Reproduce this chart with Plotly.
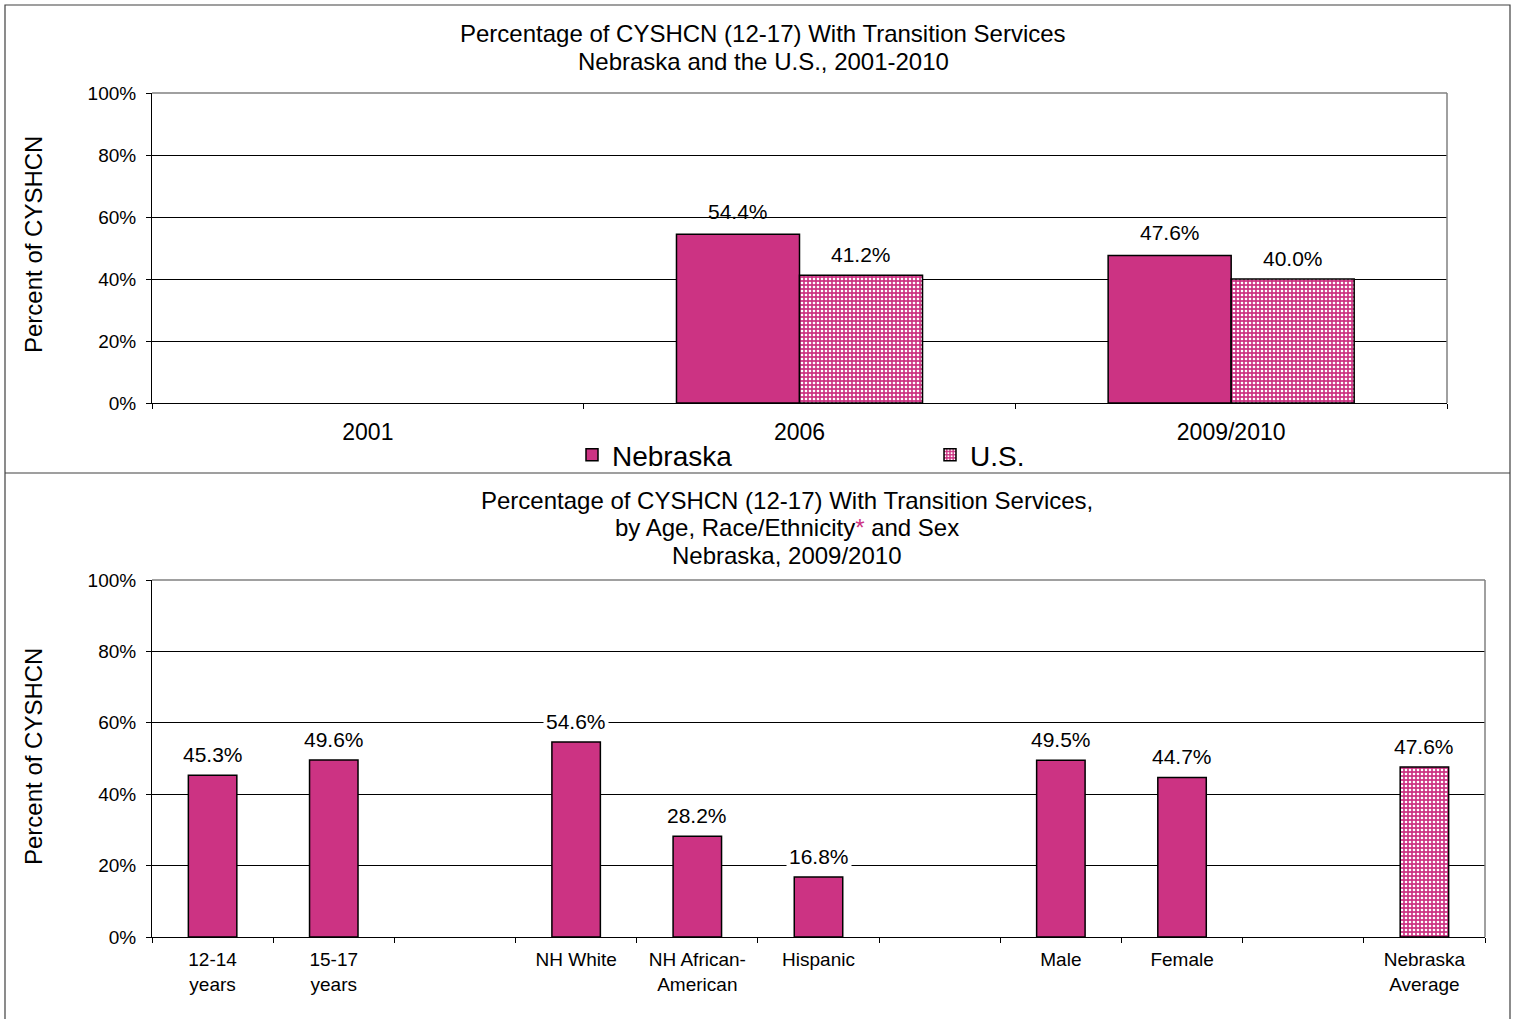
import plotly.graph_objects as go

# ---------------- data ----------------
years = ["2001", "2006", "2009/2010"]
nebraska = [None, 54.4, 47.6]
us = [None, 41.2, 40.0]

groups = ["12-14<br>years", "15-17<br>years", " ", "NH White", "NH African-<br>American",
          "Hispanic", "  ", "Male", "Female", "   ", "Nebraska<br>Average"]
group_vals = [45.3, 49.6, None, 54.6, 28.2, 16.8, None, 49.5, 44.7, None, None]
avg_vals = [None] * 10 + [47.6]

y_ticks = [0, 20, 40, 60, 80, 100]
y_ticklabels = ["0%", "20%", "40%", "60%", "80%", "100%"]

title1_lines = ["Percentage of CYSHCN (12-17) With Transition Services",
                "Nebraska and the U.S., 2001-2010"]
title2_lines = ["Percentage of CYSHCN (12-17) With Transition Services,",
                "by Age, Race/Ethnicity<span style='color:#CC3383'>*</span> and Sex",
                "Nebraska, 2009/2010"]
y_title = "Percent of CYSHCN"

MAG = "#CC3383"
FONT = "Arial, 'Liberation Sans', sans-serif"
W, H = 1517, 1019

pattern = dict(shape=".", fgcolor="white", bgcolor=MAG, size=4, solidity=0.35)

fig = go.Figure()

fig.add_trace(go.Bar(x=years, y=nebraska, name="Nebraska", marker=dict(color=MAG, line=dict(color="black", width=1.5)),
                     xaxis="x", yaxis="y"))
fig.add_trace(go.Bar(x=years, y=us, name="U.S.", marker=dict(color=MAG, pattern=pattern,
                     line=dict(color="black", width=1.5)), xaxis="x", yaxis="y"))

BW2 = 0.4
fig.add_trace(go.Bar(x=groups, y=group_vals, showlegend=False, width=BW2, offset=-BW2 / 2,
                     marker=dict(color=MAG, line=dict(color="black", width=1.5)),
                     xaxis="x2", yaxis="y2"))
fig.add_trace(go.Bar(x=groups, y=avg_vals, showlegend=False, width=BW2, offset=-BW2 / 2,
                     marker=dict(color=MAG, pattern=pattern, line=dict(color="black", width=1.5)),
                     xaxis="x2", yaxis="y2"))


def px_x(p):
    return p / W


def px_y(p):
    return 1 - p / H


ax_common = dict(showline=True, linecolor="black", linewidth=1, ticks="outside", ticklen=5,
                 tickcolor="black", fixedrange=True, automargin=False)

fig.update_layout(
    template="none",
    width=W, height=H, margin=dict(l=0, r=0, t=0, b=0, autoexpand=False),
    paper_bgcolor="white", plot_bgcolor="white",
    font=dict(family=FONT, color="black"),
    barmode="group",
    bargap=0.43, bargroupgap=0,
    xaxis=dict(domain=[px_x(152), px_x(1447)], anchor="y", type="category", tickson="boundaries",
               range=[-0.5, len(years) - 0.5], tickangle=0, showgrid=False, ticklabelstandoff=8,
               tickfont=dict(size=23), **ax_common),
    yaxis=dict(domain=[px_y(403), px_y(93)], anchor="x", range=[0, 100], tickvals=y_ticks,
               ticktext=y_ticklabels, tickfont=dict(size=19), showgrid=True, gridcolor="black",
               gridwidth=1, zeroline=False, ticklabelstandoff=6, **ax_common),
    xaxis2=dict(domain=[px_x(152), px_x(1485)], anchor="y2", type="category", tickson="boundaries",
                range=[-0.5, len(groups) - 0.5], tickangle=0, showgrid=False, ticklabelstandoff=5,
                tickfont=dict(size=19), **ax_common),
    yaxis2=dict(domain=[px_y(937), px_y(580)], anchor="x2", range=[0, 100], tickvals=y_ticks,
                ticktext=y_ticklabels, tickfont=dict(size=19), showgrid=True, gridcolor="black",
                gridwidth=1, zeroline=False, ticklabelstandoff=6, **ax_common),
    legend=dict(orientation="h", x=px_x(572), y=px_y(455), xanchor="left", yanchor="middle",
                font=dict(size=28), entrywidth=313, bgcolor="rgba(0,0,0,0)", itemclick=False),
    showlegend=True,
)

shapes = []
# outer frames
shapes.append(dict(type="rect", xref="paper", yref="paper", x0=px_x(5), x1=px_x(1510), y0=px_y(1030), y1=px_y(5),
                   line=dict(color="#404040", width=1.2)))
shapes.append(dict(type="line", xref="paper", yref="paper", x0=px_x(5), x1=px_x(1510), y0=px_y(473), y1=px_y(473),
                   line=dict(color="#404040", width=1.2)))
# gray plot frames (top and right)
for xa, ya in (("x", "y"), ("x2", "y2")):
    shapes.append(dict(type="line", xref=f"{xa} domain", yref=f"{ya} domain", x0=0, x1=1, y0=1, y1=1,
                       line=dict(color="#808080", width=1.5)))
    shapes.append(dict(type="line", xref=f"{xa} domain", yref=f"{ya} domain", x0=1, x1=1, y0=0, y1=1,
                       line=dict(color="#808080", width=1.5)))
fig.update_layout(shapes=shapes)

ann = []
# titles (one annotation per line)
for line, yc in zip(title1_lines, (34, 62)):
    ann.append(dict(xref="paper", yref="paper", x=px_x(763), y=px_y(yc), showarrow=False, text=line,
                    font=dict(size=24), xanchor="center", yanchor="middle"))
for line, yc in zip(title2_lines, (500, 527, 555)):
    ann.append(dict(xref="paper", yref="paper", x=px_x(787), y=px_y(yc), showarrow=False, text=line,
                    font=dict(size=24), xanchor="center", yanchor="middle"))
# y axis titles
for yc in (245, 757):
    ann.append(dict(xref="paper", yref="paper", x=px_x(33), y=px_y(yc), showarrow=False,
                    text=y_title, textangle=-90, font=dict(size=24), xanchor="center", yanchor="middle"))

# data labels top chart (category index positions, offset by half a bar)
cat_w = (1447 - 152) / len(years)
half_bar = cat_w * (1 - 0.43) / 4
for i, v in enumerate(nebraska):
    if v is not None:
        ann.append(dict(x=i, y=v, xref="x", yref="y", text=f"{v:.1f}%", showarrow=False,
                        xshift=-half_bar, yshift=9, yanchor="bottom", font=dict(size=21)))
for i, v in enumerate(us):
    if v is not None:
        ann.append(dict(x=i, y=v, xref="x", yref="y", text=f"{v:.1f}%", showarrow=False,
                        xshift=half_bar, yshift=7, yanchor="bottom", font=dict(size=21)))
# data labels bottom chart (white background)
for i, (v, a) in enumerate(zip(group_vals, avg_vals)):
    val = v if v is not None else a
    if val is not None:
        ann.append(dict(x=i, y=val, xref="x2", yref="y2", text=f"{val:.1f}%", showarrow=False,
                        yshift=6, yanchor="bottom", font=dict(size=21), bgcolor="white", borderpad=2))
fig.update_layout(annotations=ann)

fig.write_html("out.html", config={"displayModeBar": False},
               post_script="document.body.style.margin='0px';")
